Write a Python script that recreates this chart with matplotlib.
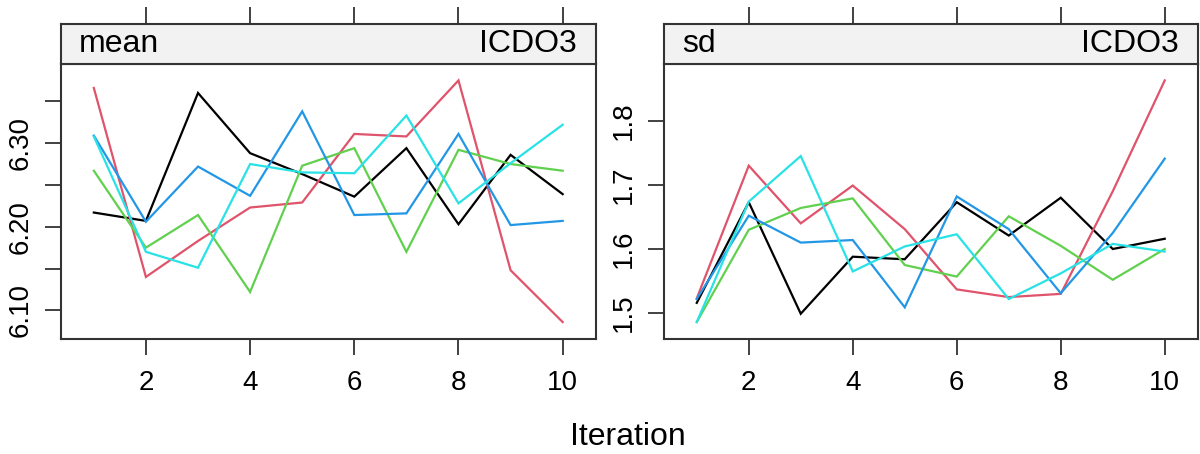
import matplotlib
matplotlib.use("Agg")
import matplotlib.pyplot as plt
import numpy as np

plt.rcParams['font.family'] = ['Liberation Sans', 'DejaVu Sans']

iterations = list(range(1, 11))
chain_colors = ["#000000", "#DF536B", "#61D04F", "#2297E6", "#28E2E5"]

mean_black = [6.217, 6.207, 6.360, 6.288, 6.263, 6.236, 6.294, 6.203, 6.286, 6.239]
mean_red   = [6.366, 6.140, 6.183, 6.223, 6.229, 6.311, 6.308, 6.375, 6.148, 6.086]
mean_green = [6.267, 6.175, 6.214, 6.122, 6.273, 6.294, 6.170, 6.292, 6.275, 6.267]
mean_blue  = [6.309, 6.206, 6.272, 6.237, 6.338, 6.214, 6.216, 6.311, 6.202, 6.207]
mean_cyan  = [6.308, 6.170, 6.151, 6.275, 6.265, 6.264, 6.333, 6.228, 6.276, 6.322]

sd_black = [1.516, 1.673, 1.499, 1.588, 1.584, 1.673, 1.621, 1.680, 1.600, 1.616]
sd_red   = [1.523, 1.730, 1.640, 1.699, 1.631, 1.537, 1.525, 1.530, 1.690, 1.863]
sd_green = [1.486, 1.630, 1.664, 1.679, 1.575, 1.557, 1.651, 1.605, 1.552, 1.600]
sd_blue  = [1.522, 1.652, 1.610, 1.614, 1.509, 1.682, 1.631, 1.531, 1.625, 1.741]
sd_cyan  = [1.486, 1.674, 1.745, 1.565, 1.604, 1.623, 1.522, 1.562, 1.608, 1.596]

mean_ticks = [6.10, 6.15, 6.20, 6.25, 6.30, 6.35]
mean_ticklabels = ["6.10", "", "6.20", "", "6.30", ""]
sd_ticks = [1.5, 1.6, 1.7, 1.8]
sd_ticklabels = ["1.5", "1.6", "1.7", "1.8"]
x_ticks = [2, 4, 6, 8, 10]

panels = [
    ("mean", "ICDO3", [mean_black, mean_red, mean_green, mean_blue, mean_cyan], mean_ticks, mean_ticklabels),
    ("sd", "ICDO3", [sd_black, sd_red, sd_green, sd_blue, sd_cyan], sd_ticks, sd_ticklabels),
]

W, H = 1200, 454
fig = plt.figure(figsize=(W / 100, H / 100), dpi=100)
fig.patch.set_facecolor("white")

edge = "#333333"
panel_x = [(61, 595.5), (664, 1197.5)]
top_strip, strip_bot, bottom = 24, 63.5, 339

for (stat, var, series, yt, ytl), (x0, x1) in zip(panels, panel_x):
    ax = fig.add_axes([x0 / W, (H - bottom) / H, (x1 - x0) / W, (bottom - strip_bot) / H])
    for vals, col in zip(series, chain_colors):
        ax.plot(iterations, vals, color=col, lw=1.6, solid_joinstyle='miter')
    allv = np.concatenate([np.asarray(s) for s in series])
    lo, hi = allv.min(), allv.max()
    pad = 0.07 * (hi - lo)
    ax.set_ylim(lo - pad, hi + pad)
    xpad = 0.07 * (max(iterations) - min(iterations))
    ax.set_xlim(min(iterations) - xpad, max(iterations) + xpad)
    ax.set_xticks(x_ticks)
    ax.set_xticklabels([str(t) for t in x_ticks], fontsize=20)
    ax.set_yticks(yt)
    ax.set_yticklabels(ytl, fontsize=20, rotation=90, va='center')
    ax.tick_params(axis='x', direction='out', length=11.5, width=1.3, color=edge, pad=11, top=False)
    ax.tick_params(axis='y', direction='out', length=11.5, width=1.3, color=edge, pad=8, right=False)
    for sp in ax.spines.values():
        sp.set_color(edge)
        sp.set_linewidth(1.5)

    sax = fig.add_axes([x0 / W, (H - strip_bot) / H, (x1 - x0) / W, (strip_bot - top_strip) / H])
    sax.set_facecolor("#F2F2F2")
    sax.set_xlim(ax.get_xlim())
    sax.set_ylim(0, 1)
    sax.set_xticks(x_ticks)
    sax.tick_params(axis='x', bottom=False, top=True, labelbottom=False, labeltop=False,
                    direction='out', length=12, width=1.3, color=edge)
    sax.set_yticks([])
    for sp in sax.spines.values():
        sp.set_color(edge)
        sp.set_linewidth(1.5)
    sax.text(18 / (x1 - x0), 0.5, stat, transform=sax.transAxes, ha='left', va='center', fontsize=23)
    sax.text(1 - 19 / (x1 - x0), 0.5, var, transform=sax.transAxes, ha='right', va='center', fontsize=23)

fig.text(628 / W, (H - 437) / H, "Iteration", ha='center', va='center', fontsize=23)

fig.savefig("out.png", dpi=100, facecolor="white")
